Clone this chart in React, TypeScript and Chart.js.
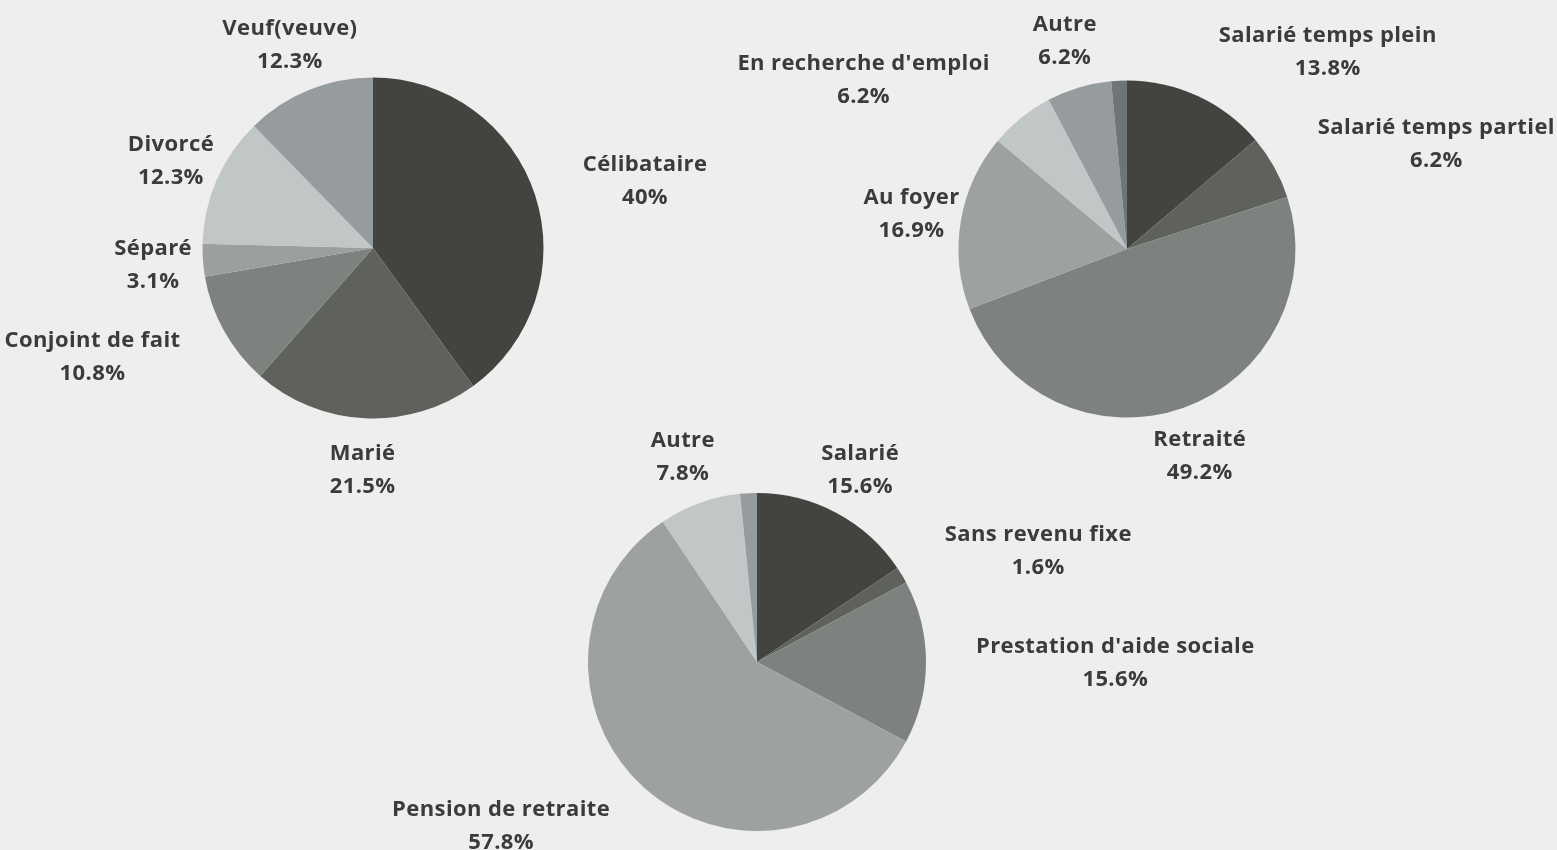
import React, { useEffect, useRef } from 'react';
import { Chart, registerables } from 'chart.js';

Chart.register(...registerables);

const W = 1557;
const H = 850;
const BG = '#eeeeee';
const TEXT = '#3b3b39';
const FONT_FAMILY = '"Open Sans"';
const FONT_SIZE = 22;
const LETTER_SPACING = '0.4px';
const LINE_GAP = 33;
const LABEL_GAP = 50;
const TEXT_NUDGE = 1.5;

// Pie 1 — état civil
const maritalLabels = ['Célibataire', 'Marié', 'Conjoint de fait', 'Séparé', 'Divorcé', 'Veuf(veuve)'];
const maritalValues = [40, 21.5, 10.8, 3.1, 12.3, 12.3];
const maritalColors = ['#43443f', '#5f615c', '#7e827e', '#9ba09f', '#c0c7c6', '#969b9e'];

// Pie 2 — occupation
const occupationLabels = ['Salarié temps plein', 'Salarié temps partiel', 'Retraité', 'Au foyer', "En recherche d'emploi", 'Autre', ''];
const occupationValues = [13.8, 6.2, 49.2, 16.9, 6.2, 6.2, 1.5];
const occupationColors = ['#43443f', '#5f615c', '#7e827e', '#9da2a1', '#c0c7c6', '#969b9e', '#6f7478'];

// Pie 3 — source de revenu
const incomeLabels = ['Salarié', 'Sans revenu fixe', "Prestation d'aide sociale", 'Pension de retraite', 'Autre', ''];
const incomeValues = [15.6, 1.6, 15.6, 57.8, 7.8, 1.6];
const incomeColors = ['#43443f', '#5f615c', '#7e827e', '#9da2a1', '#c0c7c6', '#969b9e'];

type Place = { cx: number; cy: number; r: number };
const PLACES: Place[] = [
  { cx: 373, cy: 248, r: 170.5 },
  { cx: 1127, cy: 249, r: 168.5 },
  { cx: 757, cy: 662, r: 169 },
];

const outLabels = {
  id: 'outLabels',
  afterDatasetsDraw(chart: any) {
    const ctx = chart.ctx as CanvasRenderingContext2D;
    const meta = chart.getDatasetMeta(0);
    const ds = chart.data.datasets[0];
    ctx.save();
    ctx.font = `bold ${FONT_SIZE}px ${FONT_FAMILY}`;
    (ctx as any).letterSpacing = LETTER_SPACING;
    ctx.fillStyle = TEXT;
    ctx.textBaseline = 'middle';
    ctx.textAlign = 'center';
    meta.data.forEach((arc: any, i: number) => {
      const name = chart.data.labels[i];
      if (!name) return;
      const { x, y, startAngle, endAngle, outerRadius } = arc.getProps(
        ['x', 'y', 'startAngle', 'endAngle', 'outerRadius'],
        true
      );
      const mid = (startAngle + endAngle) / 2;
      const R = outerRadius + LABEL_GAP;
      const ax = x + Math.cos(mid) * R;
      const ay = y + Math.sin(mid) * R;
      const lines = [String(name), ds.data[i] + '%'];
      const w = Math.max(...lines.map((l) => ctx.measureText(l).width));
      const x0 = ax - w / 2 + 4;
      const x1 = ax + w / 2 - 4;
      const y0 = ay - 34;
      const y1 = ay + 34;
      const nx = Math.min(Math.max(x, x0), x1);
      const ny = Math.min(Math.max(y, y0), y1);
      const overlap = Math.hypot(nx - x, ny - y) < outerRadius;
      let bx = ax;
      if (overlap) bx = Math.cos(mid) >= 0 ? ax + w / 2 : ax - w / 2;
      ctx.fillText(lines[0], bx, ay - LINE_GAP / 2 + TEXT_NUDGE);
      ctx.fillText(lines[1], bx, ay + LINE_GAP / 2 + TEXT_NUDGE);
    });
    ctx.restore();
  },
};

function PieChart({ labels, values, colors, place }: { labels: string[]; values: number[]; colors: string[]; place: Place }) {
  const ref = useRef<HTMLCanvasElement | null>(null);
  useEffect(() => {
    if (!ref.current) return;
    const chart = new Chart(ref.current, {
      type: 'pie',
      data: {
        labels,
        datasets: [
          {
            data: values,
            backgroundColor: colors,
            borderWidth: 0,
          },
        ],
      },
      options: {
        responsive: false,
        animation: false,
        events: [],
        layout: {
          padding: {
            left: place.cx - place.r,
            top: place.cy - place.r,
            right: W - place.cx - place.r,
            bottom: H - place.cy - place.r,
          },
        },
        plugins: {
          legend: { display: false },
          tooltip: { enabled: false },
        },
      },
      plugins: [outLabels],
    });
    return () => chart.destroy();
  }, []);
  return (
    <canvas
      ref={ref}
      width={W}
      height={H}
      style={{ position: 'absolute', left: 0, top: 0, width: W, height: H }}
    />
  );
}

export default function App() {
  return (
    <div style={{ position: 'fixed', left: 0, top: 0, width: W, height: H, background: BG, overflow: 'hidden' }}>
      <PieChart labels={maritalLabels} values={maritalValues} colors={maritalColors} place={PLACES[0]} />
      <PieChart labels={occupationLabels} values={occupationValues} colors={occupationColors} place={PLACES[1]} />
      <PieChart labels={incomeLabels} values={incomeValues} colors={incomeColors} place={PLACES[2]} />
    </div>
  );
}
